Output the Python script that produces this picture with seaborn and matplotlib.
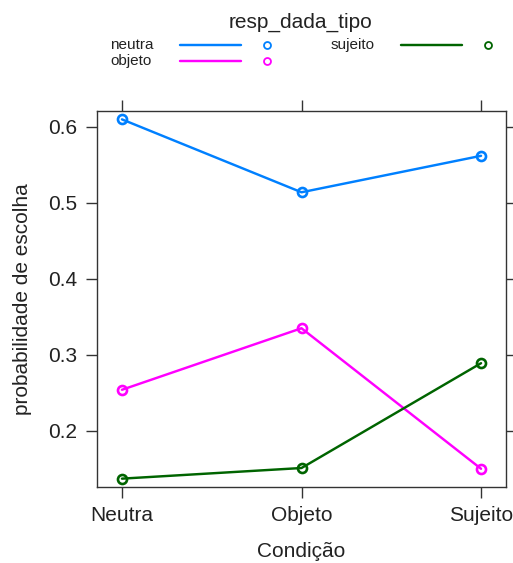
import matplotlib
matplotlib.use("Agg")
import matplotlib.pyplot as plt
from matplotlib.lines import Line2D
import seaborn as sns
import pandas as pd

categories = ["Neutra", "Objeto", "Sujeito"]
groups = ["neutra", "objeto", "sujeito"]
neutra = [0.610, 0.514, 0.562]
objeto = [0.254, 0.335, 0.150]
sujeito = [0.137, 0.151, 0.289]
yticks = [0.2, 0.3, 0.4, 0.5, 0.6]

colors = {"neutra": "#0080ff", "objeto": "#ff00ff", "sujeito": "#006400"}

rows = []
for g, vals in zip(groups, [neutra, objeto, sujeito]):
    for c, v in zip(categories, vals):
        rows.append({"Condicao": c, "resp_dada_tipo": g, "prob": v})
df = pd.DataFrame(rows)

sns.set_style("white")
plt.rcParams["font.family"] = ["Liberation Sans", "DejaVu Sans"]

fig = plt.figure(figsize=(5.13, 5.63), dpi=100)
ax = fig.add_axes([97/513, 1-487/563, 409/513, 376/563])

sns.lineplot(data=df, x="Condicao", y="prob", hue="resp_dada_tipo",
             palette=colors, marker="o", markersize=6.5, markerfacecolor="none",
             markeredgewidth=1.9, linewidth=1.75, legend=False, ax=ax, sort=False)
for ln in ax.lines:
    ln.set_markeredgecolor(ln.get_color())

ax.set_xlim(-0.139, 2.139)
ax.set_ylim(0.126, 0.621)
ax.set_yticks(yticks)
ax.set_yticklabels([f"{t:.1f}" for t in yticks])
ax.set_xticks(range(len(categories)))
ax.set_xticklabels(categories)
ax.tick_params(axis="both", which="both", direction="out", length=8, width=1,
               color="#333333", labelsize=15, top=True, right=True,
               left=True, bottom=True, labeltop=False, labelright=False, pad=6,
               labelcolor="#222222")
for s in ax.spines.values():
    s.set_color("#333333")
    s.set_linewidth(1)
ax.set_xlabel("Condição", fontsize=15, labelpad=12, color="#222222")
ax.set_ylabel("probabilidade de escolha", fontsize=15, labelpad=12, color="#222222")

# legend (lattice style)
fig.text(301/513, 1-22/563, "resp_dada_tipo", ha="center", va="center", fontsize=15, color="#222222")
entries = [("neutra", 110, 45), ("objeto", 110, 61), ("sujeito", 331, 45)]
for (name, x0, y0) in entries:
    fig.text(x0/513, 1-y0/563, name, ha="left", va="center", fontsize=11, color="#222222")
    lx0 = x0 + 70
    fig.add_artist(Line2D([lx0/513, (lx0+61)/513], [1-y0/563, 1-y0/563],
                          color=colors[name], lw=1.75, transform=fig.transFigure))
    fig.add_artist(Line2D([(lx0+87)/513], [1-y0/563], marker="o", markersize=5,
                          markerfacecolor="none", markeredgecolor=colors[name],
                          markeredgewidth=1.3, linestyle="none", transform=fig.transFigure))

fig.savefig("out.png", dpi=100)
